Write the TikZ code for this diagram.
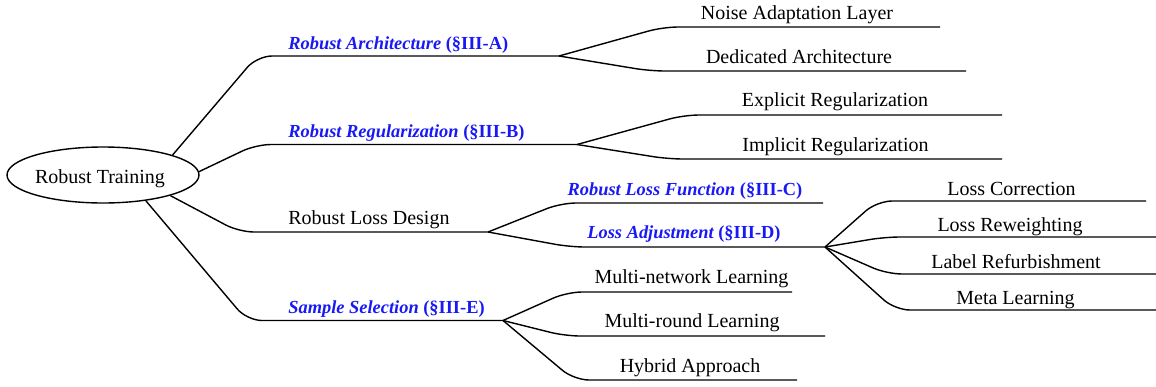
\documentclass[tikz,border=0pt]{standalone}
\usepackage{fontspec}
\setmainfont{Liberation Serif}
\usetikzlibrary{shapes.geometric}
\definecolor{secblue}{RGB}{25,25,245}
\begin{document}
\begin{tikzpicture}[x=0.5pt,y=-0.5pt,
  edge/.style={line width=0.7pt, rounded corners=7.5pt},
  lbl/.style={anchor=base, inner sep=0pt, font=\fontsize{10}{12}\selectfont},
  sec/.style={anchor=base west, inner sep=0pt, text=secblue, font=\fontsize{9.2}{11}\selectfont\bfseries},
  secc/.style={sec, anchor=base},
  rootnode/.style={ellipse, draw, line width=0.7pt, minimum width=96pt, minimum height=28pt, inner sep=0pt, text height=9pt, text depth=1pt, font=\fontsize{10}{12}\selectfont}
]
\useasboundingbox (0,0) rectangle (1156,386);

% root
\node[rootnode] (root) at (103,175) {\hspace*{-3pt}Robust Training};

% fork points and line ends
\coordinate (fA) at (559,56);
\coordinate (fB) at (577,144.5);
\coordinate (fC) at (488,232);
\coordinate (fD) at (825,247);
\coordinate (fE) at (503,320.5);

\coordinate (eNoise) at (940,27);
\coordinate (eDed) at (966,71);
\coordinate (eExp) at (1002,115);
\coordinate (eImp) at (1002,159);
\coordinate (eRLF) at (823,203);
\coordinate (eLC) at (1146,201);
\coordinate (eLR) at (1156,237);
\coordinate (eLRef) at (1156,274);
\coordinate (eMeta) at (1156,310);
\coordinate (eMN) at (792,292);
\coordinate (eMR) at (825,336);
\coordinate (eHy) at (797,380);

% level 1 labels
\node[sec] (arch) at (288,49) {\itshape Robust Architecture \upshape(§III-A)};
\node[sec] (reg) at (288,137) {\itshape Robust Regularization \upshape(§III-B)};
\node[lbl, anchor=base west] (lossd) at (288,224) {Robust Loss Design};
\node[sec] (samp) at (288,313) {\itshape Sample Selection \upshape(§III-E)};

% level 2 labels
\node[lbl] (noise) at (797,19) {Noise Adaptation Layer};
\node[lbl] (ded) at (799,63) {Dedicated Architecture};
\node[lbl] (exp) at (835,106) {Explicit Regularization};
\node[lbl] (imp) at (835.5,151) {Implicit Regularization};
\node[secc] (rlf) at (685,195) {\itshape Robust Loss Function \upshape(§III-C)};
\node[secc] (ladj) at (684,238) {\itshape Loss Adjustment \upshape(§III-D)};
\node[lbl] (mn) at (691.5,283) {Multi-network Learning};
\node[lbl] (mr) at (692,327) {Multi-round Learning};
\node[lbl] (hy) at (690,372) {Hybrid Approach};

% level 3 labels
\node[lbl] (lc) at (1011.5,195) {Loss Correction};
\node[lbl] (lr) at (1010,231) {Loss Reweighting};
\node[lbl] (lref) at (1016,268) {Label Refurbishment};
\node[lbl] (meta) at (1015.5,304) {Meta Learning};

% level 1 connectors
\draw[edge] (root.16) -- (257,56) -- (fA);
\draw[edge] (root.2) -- (256,144.5) -- (fB);
\draw[edge] (root.-17) -- (239,232) -- (fC);
\draw[edge] (root.-31) -- (247,320.5) -- (fE);

% level 2 connectors
\draw[edge] (fA) -- (663,27) -- (eNoise);
\draw[edge] (fA) -- (650,71) -- (eDed);
\draw[edge] (fB) -- (684,115) -- (eExp);
\draw[edge] (fB) -- (668,159) -- (eImp);
\draw[edge] (fC) -- (561,203) -- (eRLF);
\draw[edge] (fC) -- (570,247) -- (fD);
\draw[edge] (fE) -- (567,292) -- (eMN);
\draw[edge] (fE) -- (565,336) -- (eMR);
\draw[edge] (fE) -- (574,380) -- (eHy);

% level 3 connectors
\draw[edge] (fD) -- (877,201) -- (eLC);
\draw[edge] (fD) -- (885,237) -- (eLR);
\draw[edge] (fD) -- (887,274) -- (eLRef);
\draw[edge] (fD) -- (895,310) -- (eMeta);
\end{tikzpicture}
\end{document}
